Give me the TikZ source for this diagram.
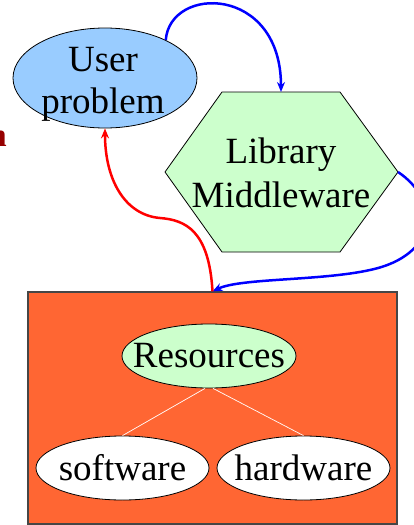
\documentclass[tikz,border=0pt]{standalone}
\usepackage{fontspec}
\setmainfont{Liberation Serif}
\usetikzlibrary{shapes.geometric,arrows.meta}
\definecolor{skyfill}{RGB}{153,204,255}
\definecolor{mintfill}{RGB}{204,255,204}
\definecolor{boxfill}{RGB}{255,102,51}
\definecolor{boxedge}{RGB}{70,70,70}
\definecolor{linkblue}{RGB}{0,0,255}
\definecolor{linkred}{RGB}{255,0,0}
\definecolor{fragred}{RGB}{150,0,0}
\tikzset{
  big/.style={font=\fontsize{37}{42}\selectfont, align=center, inner sep=0pt},
  oval/.style={ellipse, draw=black, line width=0.8pt, inner sep=0pt},
  link/.style={line width=2.5pt, -{Stealth[length=10pt,width=8pt]}},
  branch/.style={draw=white, line width=0.7pt}
}
\begin{document}
\begin{tikzpicture}[x=1pt,y=-1pt]
\useasboundingbox (0,0) rectangle (414,525);

% leftover glyph at the left edge
\node[anchor=base east, inner sep=0pt, text=fragred,
      font=\fontsize{33}{36}\selectfont\bfseries] (frag) at (7,146) {n};

% user problem
\node[oval, fill=skyfill, minimum width=184pt, minimum height=100pt]
  (user) at (105,78) {};
\node[big] (usertext) at (103,84) {User\\problem};

% library / middleware hexagon
\coordinate (hexL) at (165,172);
\coordinate (hexTL) at (222,92);
\coordinate (hexTR) at (340,92);
\coordinate (hexR) at (398,172);
\coordinate (hexBR) at (340,252);
\coordinate (hexBL) at (222,252);
\coordinate (hexT) at (281,92);
\draw[fill=mintfill, line width=0.8pt] (hexL) -- (hexTL) -- (hexTR) -- (hexR)
  -- (hexBR) -- (hexBL) -- cycle;
\node[big, font=\fontsize{37}{44}\selectfont] (lib) at (281,173) {Library\\Middleware};

% resources box
\node[draw=boxedge, fill=boxfill, line width=1.2pt, minimum width=369pt,
      minimum height=232pt, inner sep=0pt] (box) at (212.5,408) {};
\node[oval, fill=mintfill, minimum width=174pt, minimum height=64pt,
      label={[big]center:Resources}] (res) at (209,356) {};
\node[oval, fill=white, minimum width=173pt, minimum height=64pt,
      label={[big]center:software}] (sw) at (122.5,468) {};
\node[oval, fill=white, minimum width=173pt, minimum height=64pt,
      label={[big]center:hardware}] (hw) at (303.5,468) {};
\draw[branch] (res.-97) -- (sw.north);
\draw[branch] (res.-83) -- (hw.north);

% connectors
\draw[link, color=linkblue]
  (user.32) .. controls (170,-15) and (281,-15) .. (hexT);
\draw[link, color=linkblue]
  (hexR) .. controls (440,200) and (440,255) .. (370,270)
  .. controls (320,281) and (240,278) .. (box.north);
\draw[link, color=linkred]
  (box.north) .. controls (209,230) and (185,220) .. (160,218)
  .. controls (125,215) and (105,180) .. (user.south);
\end{tikzpicture}
\end{document}
